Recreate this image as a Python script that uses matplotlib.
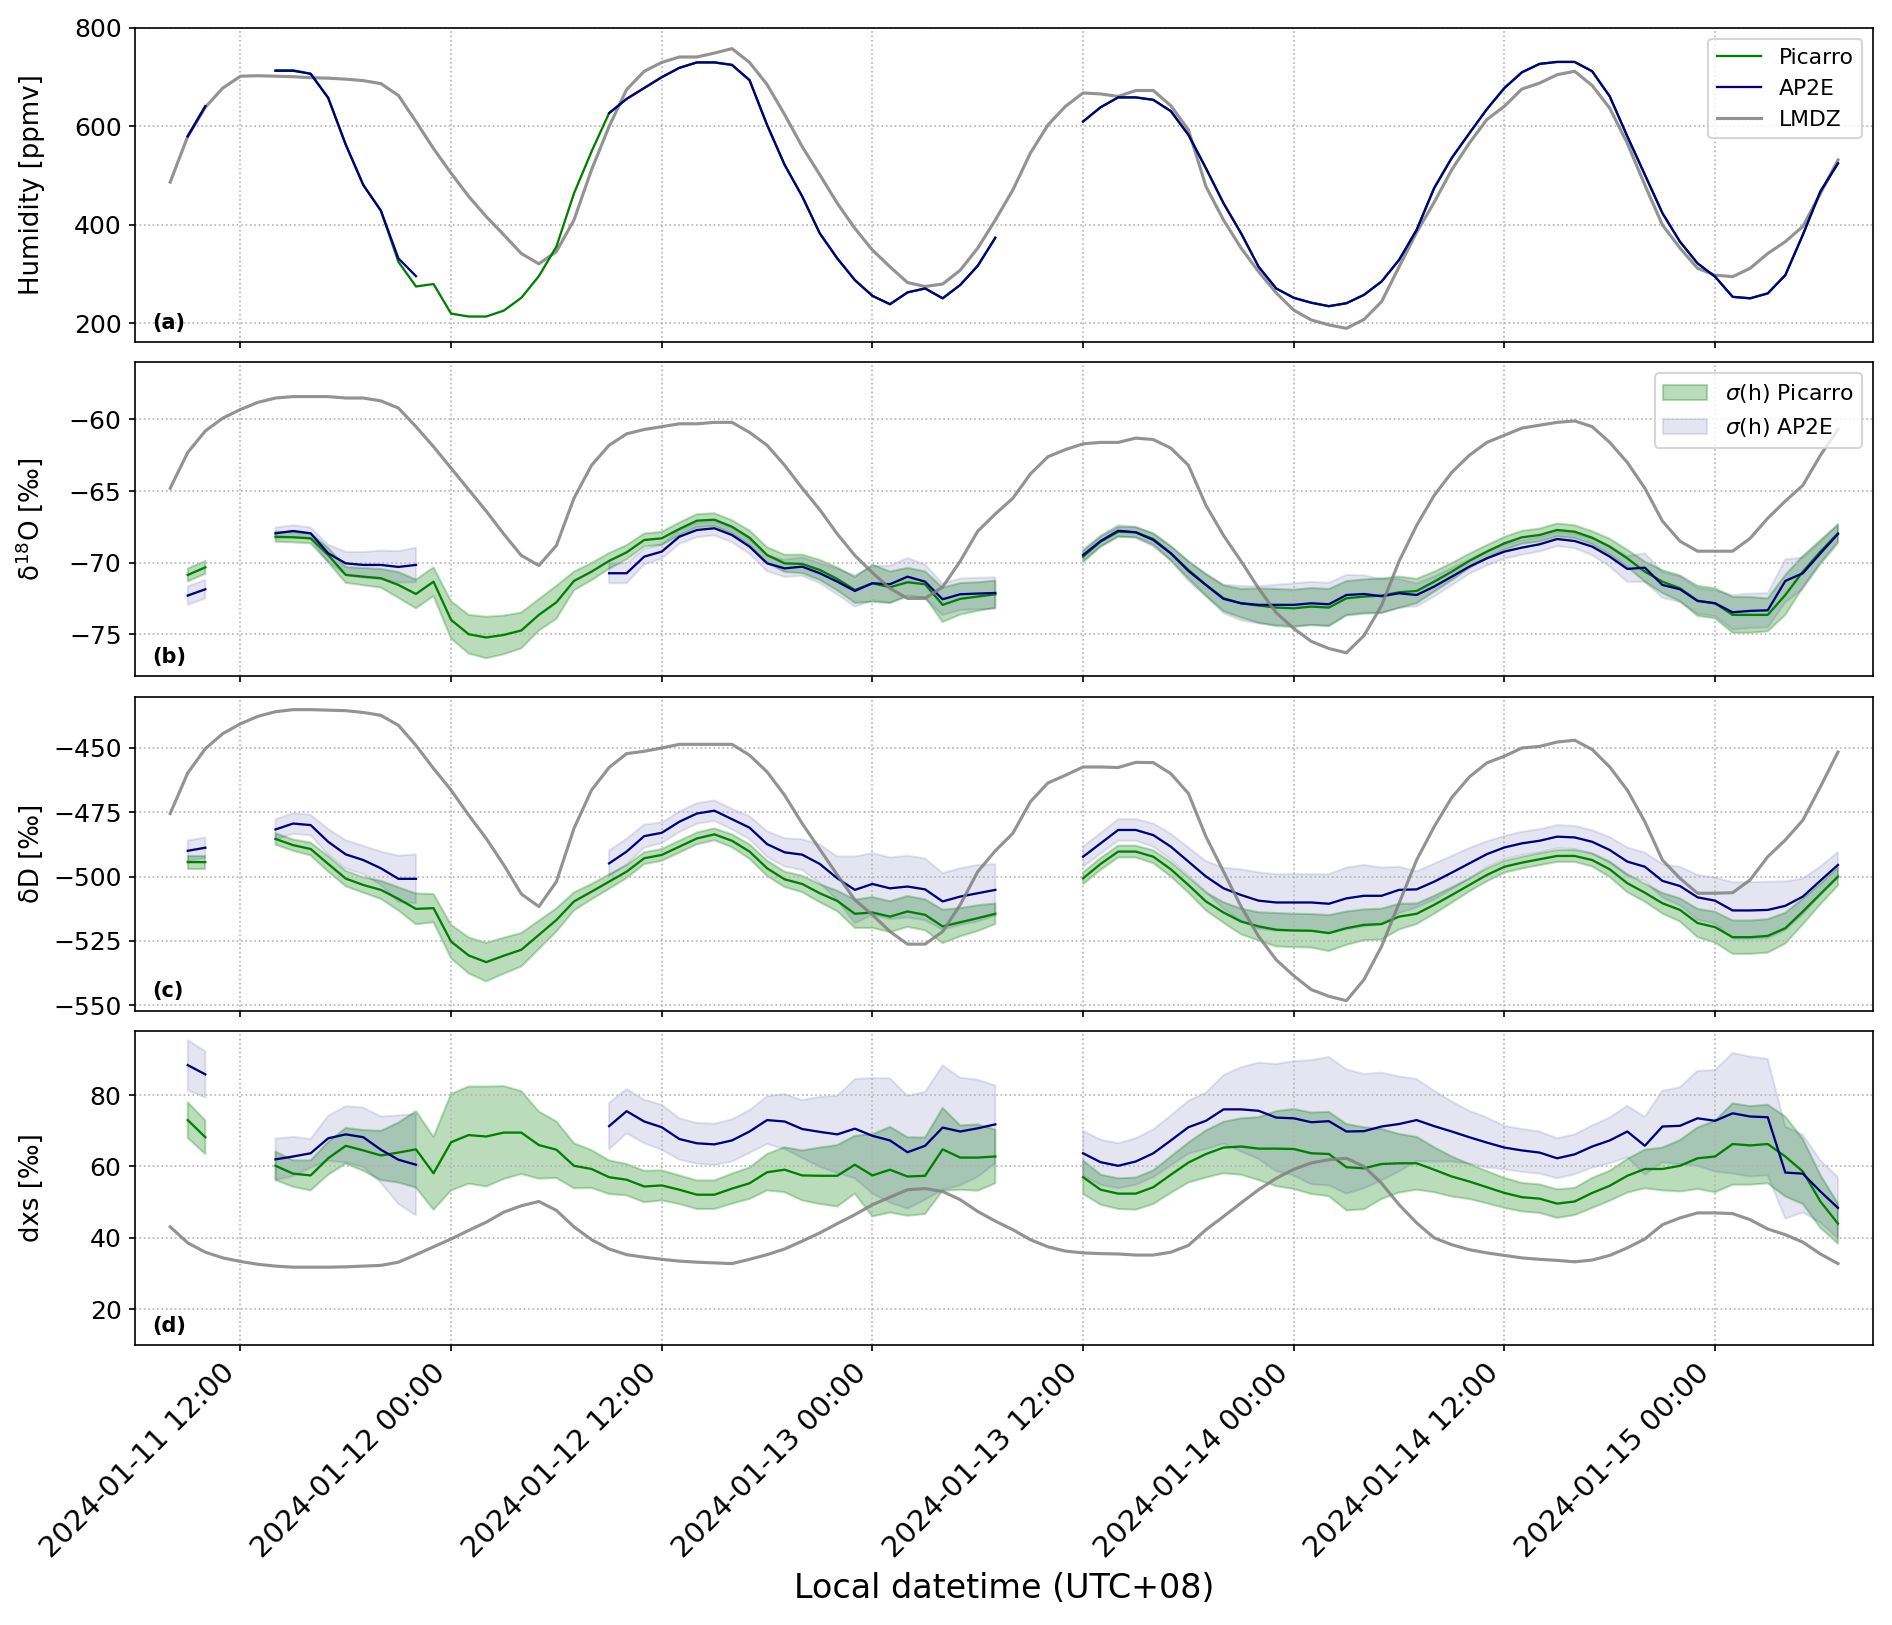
import numpy as np
import pandas as pd
import matplotlib
matplotlib.use("Agg")
import matplotlib.pyplot as plt
import matplotlib.dates as mdates
from matplotlib.ticker import MultipleLocator

nan = np.nan

# hourly time axis, local time
times = pd.date_range("2024-01-11 08:00", periods=96, freq="h")

# (a) humidity [ppmv]
hum_lmdz = [
    487, 580, 639, 678, 702, 703, 702, 701, 699, 698, 696, 693,
    687, 663, 610, 555, 505, 458, 417, 380, 342, 321, 346, 410,
    512, 600, 675, 712, 730, 741, 741, 749, 758, 730, 685, 624,
    559, 502, 444, 393, 349, 315, 283, 275, 280, 308, 353, 410,
    471, 546, 603, 641, 668, 666, 661, 673, 673, 642, 593, 478,
    410, 353, 305, 262, 227, 207, 197, 190, 208, 244, 315, 385,
    446, 512, 566, 614, 641, 676, 688, 705, 712, 683, 637, 566,
    481, 400, 353, 312, 298, 295, 312, 342, 366, 397, 464, 532,
]
hum_picarro = [
    nan, 580, 641, nan, nan, nan, 714, 714, 707, 658, 563, 481,
    429, 325, 275, 280, 220, 214, 214, 226, 252, 296, 356, 464,
    549, 627, 656, 678, 700, 719, 730, 730, 725, 694, 603, 522,
    458, 383, 332, 288, 256, 239, 263, 271, 251, 278, 317, 374,
    nan, nan, nan, nan, 610, 639, 659, 659, 654, 631, 583, 515,
    444, 383, 315, 271, 252, 242, 235, 241, 258, 285, 329, 390,
    475, 536, 586, 635, 678, 710, 727, 731, 731, 712, 661, 580,
    502, 424, 366, 322, 295, 254, 251, 261, 298, 380, 468, 525,
]
hum_ap2e = [
    nan, 580, 641, nan, nan, nan, 713, 713, 707, 658, 563, 481,
    429, 332, 296, nan, nan, nan, nan, nan, nan, nan, nan, nan,
    nan, 627, 656, 678, 700, 719, 730, 730, 725, 694, 603, 522,
    458, 383, 332, 288, 256, 239, 263, 271, 251, 278, 317, 374,
    nan, nan, nan, nan, 610, 639, 659, 659, 654, 631, 583, 515,
    444, 383, 315, 271, 252, 242, 235, 241, 258, 285, 329, 390,
    475, 536, 586, 635, 678, 710, 727, 731, 731, 712, 661, 580,
    502, 424, 366, 322, 295, 254, 251, 261, 298, 380, 468, 525,
]

# (b) d18O [permil]
d18o_lmdz = [
    -64.8, -62.3, -60.8, -59.9, -59.3, -58.8, -58.5, -58.4, -58.4, -58.4, -58.5, -58.5,
    -58.7, -59.2, -60.5, -61.9, -63.4, -64.9, -66.4, -68.0, -69.5, -70.2, -68.8, -65.5,
    -63.2, -61.8, -61.0, -60.7, -60.5, -60.3, -60.3, -60.2, -60.2, -60.9, -61.8, -63.2,
    -64.8, -66.3, -68.0, -69.5, -70.7, -71.8, -72.5, -72.5, -71.7, -69.9, -67.8, -66.6,
    -65.5, -63.8, -62.6, -62.1, -61.7, -61.6, -61.6, -61.3, -61.4, -62.0, -63.2, -66.0,
    -68.1, -69.9, -71.8, -73.5, -74.6, -75.5, -76.0, -76.3, -75.1, -73.0, -69.9, -67.4,
    -65.3, -63.7, -62.5, -61.6, -61.1, -60.6, -60.4, -60.2, -60.1, -60.5, -61.6, -63.0,
    -64.8, -67.1, -68.5, -69.2, -69.2, -69.2, -68.3, -66.9, -65.7, -64.6, -62.5, -60.7,
]
d18o_picarro = [
    nan, -70.86, -70.33, nan, nan, nan, -68.19, -68.23, -68.30, -69.47, -70.86, -70.98,
    -71.09, -71.56, -72.19, -71.33, -74.00, -75.00, -75.23, -75.05, -74.74, -73.65, -72.77, -71.28,
    -70.63, -69.88, -69.28, -68.42, -68.30, -67.65, -67.07, -67.00, -67.49, -68.26, -69.47, -70.05,
    -70.09, -70.51, -71.14, -71.91, -71.44, -71.72, -71.37, -71.51, -72.95, -72.53, -72.37, -72.21,
    nan, nan, nan, nan, -69.58, -68.53, -67.84, -67.88, -68.35, -69.35, -70.51, -71.56,
    -72.49, -72.84, -73.00, -73.14, -73.19, -73.07, -73.14, -72.49, -72.37, -72.30, -72.07, -71.98,
    -71.33, -70.63, -69.88, -69.23, -68.65, -68.23, -68.07, -67.72, -67.84, -68.26, -68.88, -69.70,
    -70.63, -71.33, -71.79, -72.67, -72.84, -73.65, -73.65, -73.65, -72.26, -70.63, -69.23, -67.95,
]
d18o_picarro_sd = [
    nan, 0.45, 0.45, nan, nan, nan, 0.35, 0.35, 0.35, 0.5, 0.55, 0.6,
    0.65, 0.9, 1.0, 1.0, 1.3, 1.35, 1.45, 1.35, 1.25, 1.1, 1.15, 0.65,
    0.6, 0.55, 0.5, 0.45, 0.45, 0.45, 0.45, 0.45, 0.45, 0.5, 0.55, 0.6,
    0.65, 0.7, 0.8, 0.9, 1.3, 1.1, 1.0, 0.9, 1.2, 1.1, 1.0, 0.95,
    nan, nan, nan, nan, 0.4, 0.35, 0.35, 0.35, 0.4, 0.5, 0.6, 0.75,
    0.9, 1.0, 1.2, 1.3, 1.3, 1.3, 1.3, 1.2, 1.2, 1.2, 1.1, 0.85,
    0.7, 0.6, 0.5, 0.45, 0.45, 0.45, 0.45, 0.45, 0.45, 0.45, 0.55, 0.6,
    0.7, 0.8, 0.9, 1.05, 1.05, 1.25, 1.25, 1.15, 1.4, 1.1, 0.8, 0.6,
]
d18o_ap2e = [
    nan, -72.30, -71.86, nan, nan, nan, -67.95, -67.79, -67.95, -69.35, -70.05, -70.16,
    -70.16, -70.30, -70.16, nan, nan, nan, nan, nan, nan, nan, nan, nan,
    nan, -70.74, -70.74, -69.58, -69.23, -68.19, -67.72, -67.60, -68.07, -68.88, -70.05, -70.40,
    -70.28, -70.74, -71.33, -71.98, -71.44, -71.51, -70.98, -71.33, -72.56, -72.21, -72.16, -72.12,
    nan, nan, nan, nan, -69.47, -68.49, -67.77, -67.88, -68.42, -69.35, -70.58, -71.56,
    -72.53, -72.84, -72.95, -72.95, -72.95, -72.84, -72.91, -72.26, -72.19, -72.35, -72.14, -72.26,
    -71.67, -70.98, -70.28, -69.70, -69.23, -68.95, -68.72, -68.35, -68.49, -68.88, -69.58, -70.44,
    -70.35, -71.56, -71.86, -72.67, -72.84, -73.47, -73.37, -73.33, -71.28, -70.74, -69.35, -68.00,
]
d18o_ap2e_sd = [
    nan, 0.65, 0.65, nan, nan, nan, 0.4, 0.4, 0.4, 0.6, 0.8, 0.9,
    1.0, 1.1, 1.2, nan, nan, nan, nan, nan, nan, nan, nan, nan,
    nan, 0.7, 0.7, 0.55, 0.5, 0.5, 0.5, 0.5, 0.5, 0.5, 0.55, 0.6,
    0.65, 0.7, 0.9, 1.1, 1.2, 1.3, 1.3, 1.2, 1.1, 1.1, 1.1, 1.1,
    nan, nan, nan, nan, 0.4, 0.4, 0.4, 0.4, 0.45, 0.5, 0.7, 0.8,
    1.0, 1.2, 1.3, 1.4, 1.5, 1.5, 1.5, 1.4, 1.3, 1.2, 1.0, 0.8,
    0.7, 0.6, 0.5, 0.5, 0.5, 0.5, 0.5, 0.5, 0.5, 0.6, 0.7, 0.9,
    1.0, 0.9, 0.9, 0.9, 0.9, 1.2, 1.2, 1.2, 1.5, 1.1, 0.8, 0.7,
]

# (c) dD [permil]
dd_lmdz = [
    -475.5, -459.7, -450.3, -444.4, -440.6, -437.7, -435.9, -435.1, -435.1, -435.3, -435.5, -436.2,
    -437.3, -441.2, -449.0, -458.0, -466.4, -476.1, -485.2, -495.5, -506.8, -511.7, -502.0, -481.3,
    -466.4, -457.6, -452.2, -451.3, -450.0, -448.6, -448.6, -448.6, -448.6, -452.8, -459.3, -468.4,
    -479.4, -489.4, -499.4, -509.1, -514.9, -521.4, -526.3, -526.3, -521.4, -511.0, -498.1, -490.0,
    -483.2, -470.9, -463.6, -460.6, -457.4, -457.4, -457.6, -455.6, -455.7, -460.0, -467.7, -484.5,
    -498.1, -511.7, -523.3, -532.4, -538.6, -544.0, -546.6, -548.3, -540.1, -527.2, -510.4, -493.6,
    -480.6, -469.3, -461.3, -455.8, -453.2, -450.0, -449.4, -447.7, -447.0, -450.6, -457.4, -466.4,
    -478.7, -493.6, -500.7, -506.5, -506.5, -506.3, -501.3, -492.3, -485.8, -478.1, -465.1, -451.6,
]
dd_picarro = [
    nan, -494.4, -494.4, nan, nan, nan, -485.4, -487.8, -489.3, -495.1, -500.8, -503.3,
    -505.2, -508.7, -512.6, -512.3, -525.3, -530.7, -533.3, -530.8, -528.5, -522.7, -516.9, -509.7,
    -505.9, -502.0, -498.1, -492.9, -491.6, -488.4, -485.2, -483.6, -486.1, -490.3, -496.8, -501.1,
    -502.9, -506.5, -509.5, -514.5, -514.0, -515.6, -513.6, -514.9, -519.4, -517.8, -516.2, -514.5,
    nan, nan, nan, nan, -500.7, -495.1, -490.3, -490.3, -492.3, -497.2, -503.3, -509.7,
    -514.0, -517.5, -519.4, -520.7, -521.0, -521.1, -522.0, -520.1, -518.8, -518.5, -515.6, -514.5,
    -511.0, -507.2, -503.3, -499.4, -496.2, -494.6, -493.3, -492.0, -492.0, -493.6, -497.2, -502.6,
    -506.3, -510.4, -513.0, -518.1, -519.7, -523.6, -523.6, -523.1, -520.1, -513.6, -506.8, -500.0,
]
dd_picarro_sd = [
    nan, 2.5, 2.5, nan, nan, nan, 2.2, 2.2, 2.5, 3.0, 3.0, 3.0,
    3.5, 4.5, 6.0, 5.5, 6.5, 7.0, 7.5, 7.0, 6.5, 5.5, 4.5, 3.5,
    3.0, 2.8, 2.5, 2.3, 2.3, 2.3, 2.3, 2.3, 2.5, 2.8, 3.0, 3.0,
    3.2, 3.5, 4.0, 5.5, 6.0, 6.0, 6.0, 6.0, 6.5, 5.5, 5.0, 4.0,
    nan, nan, nan, nan, 2.3, 2.3, 2.3, 2.3, 2.5, 2.8, 3.0, 3.5,
    4.0, 5.0, 5.5, 6.5, 6.5, 6.5, 7.0, 6.5, 6.0, 6.0, 5.0, 4.0,
    3.5, 3.0, 2.5, 2.5, 2.3, 2.3, 2.3, 2.3, 2.3, 2.5, 3.0, 3.5,
    3.5, 4.0, 4.5, 5.5, 6.0, 6.5, 6.5, 6.5, 6.0, 5.0, 4.0, 3.5,
]
dd_ap2e = [
    nan, -490.0, -488.8, nan, nan, nan, -481.7, -479.4, -480.0, -486.5, -491.4, -493.6,
    -496.8, -500.9, -500.9, nan, nan, nan, nan, nan, nan, nan, nan, nan,
    nan, -494.9, -490.3, -484.3, -483.0, -478.7, -475.5, -474.4, -477.7, -481.0, -487.4, -490.6,
    -491.5, -495.1, -500.7, -505.2, -502.9, -504.6, -503.9, -505.0, -509.7, -507.8, -506.5, -505.2,
    nan, nan, nan, nan, -492.3, -487.1, -481.9, -481.9, -483.9, -488.4, -494.2, -500.0,
    -504.6, -507.2, -509.4, -510.1, -510.1, -510.1, -510.6, -508.5, -507.5, -507.5, -505.2, -505.0,
    -502.0, -498.5, -494.9, -491.3, -488.7, -487.1, -486.1, -484.5, -484.8, -486.5, -489.7, -494.2,
    -496.2, -501.7, -503.7, -508.1, -509.4, -513.2, -513.2, -513.0, -511.4, -507.8, -501.6, -495.5,
]
dd_ap2e_sd = [
    nan, 4.0, 4.0, nan, nan, nan, 4.0, 4.0, 4.0, 5.0, 5.5, 5.5,
    6.5, 9.0, 9.5, nan, nan, nan, nan, nan, nan, nan, nan, nan,
    nan, 5.0, 5.0, 4.5, 4.0, 4.0, 4.0, 4.0, 4.0, 4.5, 5.0, 5.5,
    6.0, 7.5, 8.5, 13.0, 12.0, 12.0, 12.0, 12.0, 11.0, 11.0, 11.0, 10.0,
    nan, nan, nan, nan, 4.0, 4.0, 4.2, 4.2, 4.5, 5.0, 5.5, 6.0,
    8.0, 10.0, 11.0, 11.0, 11.0, 11.0, 11.5, 12.0, 12.0, 11.0, 9.0, 7.0,
    7.0, 6.5, 6.0, 5.0, 4.5, 4.5, 4.5, 4.5, 4.5, 4.5, 5.0, 5.5,
    5.5, 6.5, 7.5, 8.7, 9.0, 11.0, 11.0, 11.0, 9.5, 7.0, 5.5, 5.0,
]

# (d) deuterium excess [permil]
dxs_lmdz = [
    43.1, 38.6, 36.0, 34.4, 33.4, 32.6, 32.1, 31.8, 31.8, 31.8, 31.9, 32.1,
    32.3, 33.2, 35.3, 37.5, 39.7, 42.1, 44.4, 47.2, 49.0, 50.2, 47.7, 43.1,
    39.5, 36.9, 35.3, 34.6, 34.0, 33.5, 33.2, 33.0, 32.8, 34.0, 35.3, 36.9,
    39.1, 41.4, 44.0, 46.5, 49.3, 51.4, 53.5, 53.8, 53.0, 50.7, 47.4, 44.7,
    42.3, 39.5, 37.5, 36.3, 35.8, 35.6, 35.5, 35.2, 35.2, 36.0, 37.9, 42.3,
    46.0, 49.8, 53.5, 56.7, 59.2, 61.0, 61.9, 62.3, 60.0, 55.3, 49.3, 44.2,
    40.0, 38.1, 36.7, 35.8, 35.1, 34.4, 34.0, 33.7, 33.3, 33.8, 35.1, 37.2,
    39.7, 43.7, 45.6, 47.0, 47.0, 46.8, 45.1, 42.5, 40.9, 38.8, 35.5, 32.8,
]
dxs_picarro = [
    nan, 73.0, 68.2, nan, nan, nan, 60.2, 58.0, 57.5, 62.3, 65.8, 64.5,
    63.1, 63.9, 64.8, 58.1, 66.8, 68.8, 68.4, 69.5, 69.5, 66.0, 64.7, 60.2,
    59.3, 57.0, 56.3, 54.4, 54.7, 53.5, 52.1, 52.1, 53.8, 55.3, 58.4, 59.1,
    57.5, 57.4, 57.4, 60.5, 57.5, 59.1, 57.2, 57.4, 64.8, 62.5, 62.5, 62.8,
    nan, nan, nan, nan, 57.0, 53.5, 52.4, 52.4, 54.2, 57.7, 61.1, 63.5,
    65.3, 65.6, 65.0, 65.0, 64.9, 63.7, 63.5, 59.8, 59.5, 60.7, 60.9, 60.9,
    59.1, 57.2, 55.8, 54.2, 52.6, 51.4, 51.0, 49.6, 50.2, 52.6, 54.6, 57.4,
    59.3, 59.3, 60.2, 62.3, 62.8, 66.3, 65.9, 66.3, 62.8, 58.6, 50.2, 44.0,
]
dxs_picarro_sd = [
    nan, 5.0, 4.7, nan, nan, nan, 4.0, 3.7, 4.2, 4.6, 5.0, 5.7,
    6.9, 8.4, 10.7, 10.2, 13.5, 13.6, 14.0, 13.0, 11.6, 9.4, 7.9, 6.3,
    5.3, 4.7, 4.4, 4.4, 4.2, 4.0, 4.0, 4.0, 4.2, 4.4, 5.1, 6.3,
    7.0, 7.9, 8.6, 8.1, 11.5, 12.0, 11.0, 10.7, 11.6, 9.0, 9.3, 7.5,
    nan, nan, nan, nan, 4.7, 4.2, 4.3, 4.5, 4.7, 5.1, 5.6, 6.6,
    7.2, 7.9, 8.8, 10.5, 11.2, 11.4, 11.8, 12.1, 11.5, 9.8, 8.2, 7.4,
    6.3, 5.6, 4.9, 4.5, 4.2, 4.0, 4.0, 4.0, 3.8, 4.2, 4.2, 4.7,
    5.4, 6.0, 7.2, 8.6, 10.0, 11.4, 11.0, 11.0, 11.2, 9.1, 7.4, 5.6,
]
dxs_ap2e = [
    nan, 88.4, 85.8, nan, nan, nan, 62.0, 62.8, 63.7, 67.9, 69.0, 68.2,
    64.7, 61.9, 60.5, nan, nan, nan, nan, nan, nan, nan, nan, nan,
    nan, 71.3, 75.5, 72.6, 71.0, 67.7, 66.5, 66.2, 67.3, 69.8, 73.0, 72.6,
    70.5, 69.7, 69.0, 70.6, 68.6, 67.3, 64.0, 65.8, 70.9, 69.8, 70.7, 71.8,
    nan, nan, nan, nan, 63.7, 61.2, 60.2, 61.4, 63.7, 67.3, 71.0, 72.8,
    76.0, 76.0, 75.6, 73.7, 73.5, 72.4, 72.7, 69.8, 69.9, 71.2, 71.9, 73.0,
    71.3, 69.8, 68.2, 66.7, 65.3, 64.5, 63.9, 62.3, 63.4, 65.6, 67.3, 69.8,
    65.8, 71.2, 71.4, 73.5, 72.8, 74.9, 74.0, 73.8, 58.3, 58.0, 53.0, 48.4,
]
dxs_ap2e_sd = [
    nan, 7.0, 6.5, nan, nan, nan, 5.8, 5.5, 4.0, 6.3, 7.9, 8.3,
    9.3, 12.4, 14.2, nan, nan, nan, nan, nan, nan, nan, nan, nan,
    nan, 6.5, 6.2, 6.1, 6.3, 5.8, 5.7, 5.8, 5.9, 6.0, 6.7, 7.7,
    8.1, 9.8, 10.8, 13.9, 16.2, 17.4, 15.8, 15.1, 17.4, 15.1, 13.6, 10.9,
    nan, nan, nan, nan, 6.3, 6.3, 6.3, 6.5, 6.7, 7.0, 7.4, 7.9,
    9.6, 11.8, 13.5, 15.0, 16.0, 17.4, 18.0, 17.4, 16.0, 15.1, 13.3, 11.5,
    9.9, 8.4, 7.4, 7.0, 6.1, 6.0, 5.9, 5.6, 5.6, 5.9, 6.4, 7.2,
    8.1, 10.0, 10.8, 13.3, 14.2, 16.9, 16.8, 16.3, 12.9, 10.9, 8.7, 8.6,
]

PIC_COLOR = "green"
AP2E_COLOR = "navy"
LMDZ_COLOR = "grey"


def draw_isotope(ax, lmdz, pic, pic_sd, ap2e, ap2e_sd):
    pic = np.array(pic)
    pic_sd = np.array(pic_sd)
    ap2e = np.array(ap2e)
    ap2e_sd = np.array(ap2e_sd)
    ax.fill_between(times, pic - pic_sd, pic + pic_sd, color=PIC_COLOR,
                    alpha=0.27, label=r"$\sigma$(h) Picarro")
    ax.fill_between(times, ap2e - ap2e_sd, ap2e + ap2e_sd, color=AP2E_COLOR,
                    alpha=0.1, label=r"$\sigma$(h) AP2E")
    ax.plot(times, pic, color=PIC_COLOR, lw=1.1)
    ax.plot(times, ap2e, color=AP2E_COLOR, lw=1.1)
    ax.plot(times, lmdz, color=LMDZ_COLOR, lw=1.5, alpha=0.85)


fig, axes = plt.subplots(4, 1, sharex=True, figsize=(1892 / 150, 1625 / 150), dpi=150)
plt.subplots_adjust(left=0.0714, right=0.99, top=0.9828, bottom=0.1723, hspace=0.064)
ax_a, ax_b, ax_c, ax_d = axes

# measured humidity drawn above the model line
ax_a.plot(times, hum_picarro, color=PIC_COLOR, lw=1.1, label="Picarro", zorder=3)
ax_a.plot(times, hum_ap2e, color=AP2E_COLOR, lw=1.1, label="AP2E", zorder=3)
ax_a.plot(times, hum_lmdz, color=LMDZ_COLOR, lw=1.5, alpha=0.85, label="LMDZ", zorder=2)
ax_a.legend(loc="upper right", fontsize=10.5)
ax_a.set_ylim(162, 800)
ax_a.yaxis.set_major_locator(MultipleLocator(200))
ax_a.set_ylabel("Humidity [ppmv]", fontsize=12.5)

draw_isotope(ax_b, d18o_lmdz, d18o_picarro, d18o_picarro_sd, d18o_ap2e, d18o_ap2e_sd)
ax_b.legend(loc="upper right", fontsize=10.5)
ax_b.set_ylim(-77.95, -56.0)
ax_b.yaxis.set_major_locator(MultipleLocator(5))
ax_b.set_ylabel(r"δ$^{18}$O [‰]", fontsize=12.5)

draw_isotope(ax_c, dd_lmdz, dd_picarro, dd_picarro_sd, dd_ap2e, dd_ap2e_sd)
ax_c.set_ylim(-552.2, -430)
ax_c.yaxis.set_major_locator(MultipleLocator(25))
ax_c.set_ylabel("δD [‰]", fontsize=12.5)

draw_isotope(ax_d, dxs_lmdz, dxs_picarro, dxs_picarro_sd, dxs_ap2e, dxs_ap2e_sd)
ax_d.set_ylim(10, 98)
ax_d.yaxis.set_major_locator(MultipleLocator(20))
ax_d.set_ylabel("dxs [‰]", fontsize=12.5)

for ax, tag in zip(axes, ["(a)", "(b)", "(c)", "(d)"]):
    ax.grid(True, linestyle=":", color="0.7", lw=0.8)
    ax.tick_params(axis="y", labelsize=12, length=3)
    ax.tick_params(axis="x", labelsize=14, length=3)
    ax.text(0.01, 0.03, tag, transform=ax.transAxes, fontsize=10,
            fontweight="bold", va="bottom", ha="left")

ax_d.set_xlim(pd.Timestamp("2024-01-11 06:00"), pd.Timestamp("2024-01-15 09:00"))
ax_d.xaxis.set_major_locator(mdates.HourLocator(byhour=[0, 12]))
ax_d.xaxis.set_major_formatter(mdates.DateFormatter("%Y-%m-%d %H:%M"))
plt.setp(ax_d.get_xticklabels(), rotation=45, ha="right")
ax_d.set_xlabel("Local datetime (UTC+08)", fontsize=16)

fig.align_ylabels(axes)
fig.savefig("out.png", dpi=150)
